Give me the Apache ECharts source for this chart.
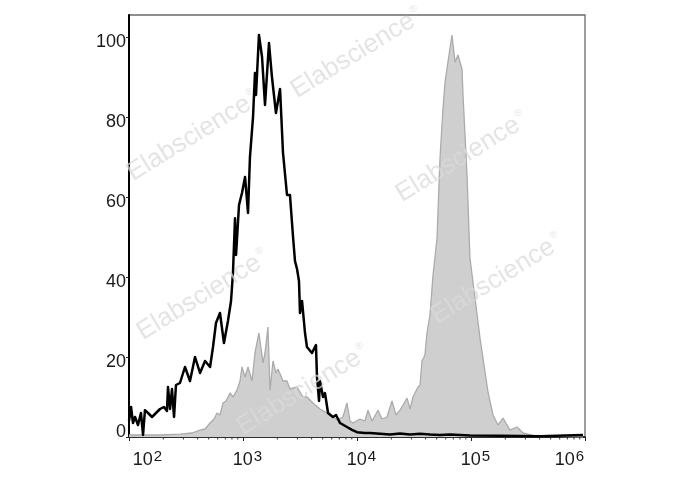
<!DOCTYPE html>
<html><head><meta charset="utf-8">
<script src="https://cdn.jsdelivr.net/npm/echarts@6/dist/echarts.min.js"></script>
<style>html,body{margin:0;padding:0;background:#fff}#c{width:688px;height:490px}</style>
</head><body><div id="c"></div>
<script>
// x values are log10 of fluorescence intensity
const blackExp = [2.000,2.018,2.035,2.053,2.079,2.105,2.123,2.140,2.167,2.202,2.237,2.272,2.307,2.333,2.342,2.360,2.377,2.395,2.412,2.447,2.491,2.535,2.579,2.623,2.667,2.711,2.737,2.763,2.798,2.833,2.868,2.895,2.912,2.930,2.939,2.965,2.991,3.018,3.044,3.061,3.088,3.105,3.114,3.140,3.167,3.193,3.228,3.254,3.289,3.325,3.351,3.386,3.412,3.439,3.456,3.474,3.491,3.500,3.518,3.544,3.561,3.605,3.640,3.649,3.667,3.675,3.702,3.719,3.746,3.789,3.816,3.851,3.912,3.956,4.000,4.070,4.114,4.202,4.289,4.377,4.465,4.553,4.640,4.728,4.816,4.991,5.254,5.605,5.982];
const blackVal = [4,7.5,3.5,5,3,6,0.5,6.7,6,5,6,7,7.5,6.5,12.5,7,12,5,13,13.5,17.5,14,20,16,19,17.5,22.5,28.5,31,23.5,29,34,41,54.7,45.5,58,61,65,56,70,80,91,85.5,100.5,95,83,98.5,90,81,87,71,60.5,60.5,50,44,42,39,31,34,26,22.5,21,23,15,9,14,10,11,6,5,5.5,3.5,2.5,1.8,1.2,1,1,0.8,0.6,0.9,0.6,0.8,0.6,0.5,0.6,0.4,0.3,0.2,0.5];
const grayExp = [2.000,2.272,2.447,2.553,2.623,2.667,2.711,2.746,2.772,2.798,2.825,2.851,2.886,2.912,2.947,2.974,2.991,3.018,3.044,3.079,3.105,3.140,3.175,3.193,3.219,3.237,3.263,3.289,3.307,3.351,3.386,3.412,3.474,3.526,3.561,3.614,3.675,3.737,3.825,3.877,3.912,3.939,3.965,4.026,4.070,4.096,4.132,4.184,4.219,4.263,4.307,4.342,4.377,4.404,4.439,4.465,4.491,4.535,4.553,4.570,4.596,4.614,4.640,4.667,4.702,4.728,4.754,4.772,4.798,4.833,4.860,4.886,4.921,4.930,4.965,4.991,5.035,5.079,5.123,5.149,5.193,5.237,5.281,5.342,5.404,5.456,5.561,5.982];
const grayVal = [0.5,0.5,0.7,1,1.7,2,3.5,4.5,6,5.5,8.5,9,11,10,11.7,14,17.5,15,17.5,14,21,26,18.5,21,27.5,11.7,19,16,17,14,14,12,12.5,10,10,8.5,7,6,4.3,5,8.5,4,3.5,4.5,4,6.7,4,6.7,4.5,5,9,5.5,6.7,8,9.7,7,10,12.5,13,19,20.5,26,30.5,40.5,49.7,69.7,82,88.7,93.7,100.5,93.7,95.5,92,85.5,65.5,44.7,34.7,24.7,16.2,11.3,5.5,3,4.7,1.7,2.5,1,0.3,0];
const xDecades = [2,3,4,5,6];
const yTickLabels = [0,20,40,60,80,100];
const watermarkText = 'Elabscience';
const watermarkSpots = [[193,136],[357,53],[462,157],[203,295],[303,390],[497,279]];

const minorTickExps = [];
for (let n = xDecades[0]; n < xDecades[xDecades.length-1]; n++) {
  for (let k = 2; k <= 9; k++) minorTickExps.push(n + Math.log10(k));
}

const FONT = "'Liberation Sans', Arial, sans-serif";
const chart = echarts.init(document.getElementById('c'), null, {renderer:'canvas'});

const wm = watermarkSpots.map(p => ({
  type: 'text', x: p[0], y: p[1], rotation: 0.55, z: 100, silent: true,
  style: {
    text: '{m|' + watermarkText + '}{r|®}',
    align: 'center', verticalAlign: 'middle',
    rich: {
      m: {fontSize: 26, fontFamily: FONT, fill: 'rgba(218,218,218,0.72)', color: 'rgba(218,218,218,0.72)'},
      r: {fontSize: 10, fontFamily: FONT, fill: 'rgba(218,218,218,0.72)', color: 'rgba(218,218,218,0.72)', verticalAlign: 'top', padding: [0,0,0,2]}
    }
  }
}));

chart.setOption({
  animation: false,
  backgroundColor: '#fff',
  grid: {left: 129, right: 103, top: 15, bottom: 53, show: true, borderColor: '#6a6a6a', borderWidth: 1.3, backgroundColor: 'transparent'},
  xAxis: {
    type: 'value', min: xDecades[0], max: xDecades[xDecades.length-1], interval: 1,
    axisLine: {show: true, onZero: false, lineStyle: {color: '#111', width: 1.5}},
    axisTick: {show: true, length: 4, lineStyle: {color: '#222', width: 1}},
    splitLine: {show: false},
    axisLabel: {
      margin: 12,
      formatter: function (v) {
        const n = Math.round(v);
        if (n === xDecades[0]) return '{b2|10}{s|' + n + '}';
        if (n === xDecades[xDecades.length-1]) return '{b|10}{s6|' + n + '}';
        return '{bc|10}{s|' + n + '}';
      },
      rich: {
        b2: {fontSize: 18, lineHeight: 20, verticalAlign: 'bottom', padding: [8,0,0,37], color: '#1a1a1a', fontFamily: FONT},
        bc: {fontSize: 18, lineHeight: 20, verticalAlign: 'bottom', padding: [8,0,0,9], color: '#1a1a1a', fontFamily: FONT},
        b: {fontSize: 18, lineHeight: 20, verticalAlign: 'bottom', padding: [8,0,0,0], color: '#1a1a1a', fontFamily: FONT},
        s: {fontSize: 15, lineHeight: 16, verticalAlign: 'top', padding: [0,0,0,1], color: '#1a1a1a', fontFamily: FONT},
        s6: {fontSize: 15, lineHeight: 16, verticalAlign: 'top', padding: [0,31,0,1], color: '#1a1a1a', fontFamily: FONT}
      }
    }
  },
  yAxis: {
    type: 'value', min: 0, max: 105.5, interval: 20,
    axisLine: {show: true, lineStyle: {color: '#000', width: 2}},
    axisTick: {show: true, length: 3, lineStyle: {color: '#222', width: 1}},
    splitLine: {show: false},
    axisLabel: {
      margin: 3, showMaxLabel: false,
      formatter: function (v) {
        if (yTickLabels.indexOf(v) < 0) return '';
        return v === 0 ? '{z|0}' : '{a|' + v + '}';
      },
      rich: {
        a: {fontSize: 18, color: '#1a1a1a', fontFamily: FONT, padding: [11,0,0,0]},
        z: {fontSize: 18, color: '#1a1a1a', fontFamily: FONT, padding: [0,0,10,0]}
      }
    }
  },
  series: [
    {
      name: 'control', type: 'line', showSymbol: false, symbol: 'none', z: 2,
      data: grayExp.map((e, i) => [e, grayVal[i]]),
      lineStyle: {color: '#ababab', width: 1.3},
      areaStyle: {color: '#cfcfcf', opacity: 1}
    },
    {
      name: 'stained', type: 'line', showSymbol: false, symbol: 'none', z: 3,
      data: blackExp.map((e, i) => [e, blackVal[i]]),
      lineStyle: {color: '#000', width: 2.5, join: 'round'}
    },
    {
      name: 'minorTicks', type: 'custom', z: 4, silent: true, clip: false,
      data: minorTickExps.map(e => [e, 0]),
      renderItem: function (params, api) {
        const p = api.coord([api.value(0), 0]);
        return {type: 'line', shape: {x1: p[0], y1: p[1], x2: p[0], y2: p[1] + 2.5}, style: {stroke: '#333', lineWidth: 1}};
      }
    }
  ],
  graphic: wm
});
</script></body></html>
